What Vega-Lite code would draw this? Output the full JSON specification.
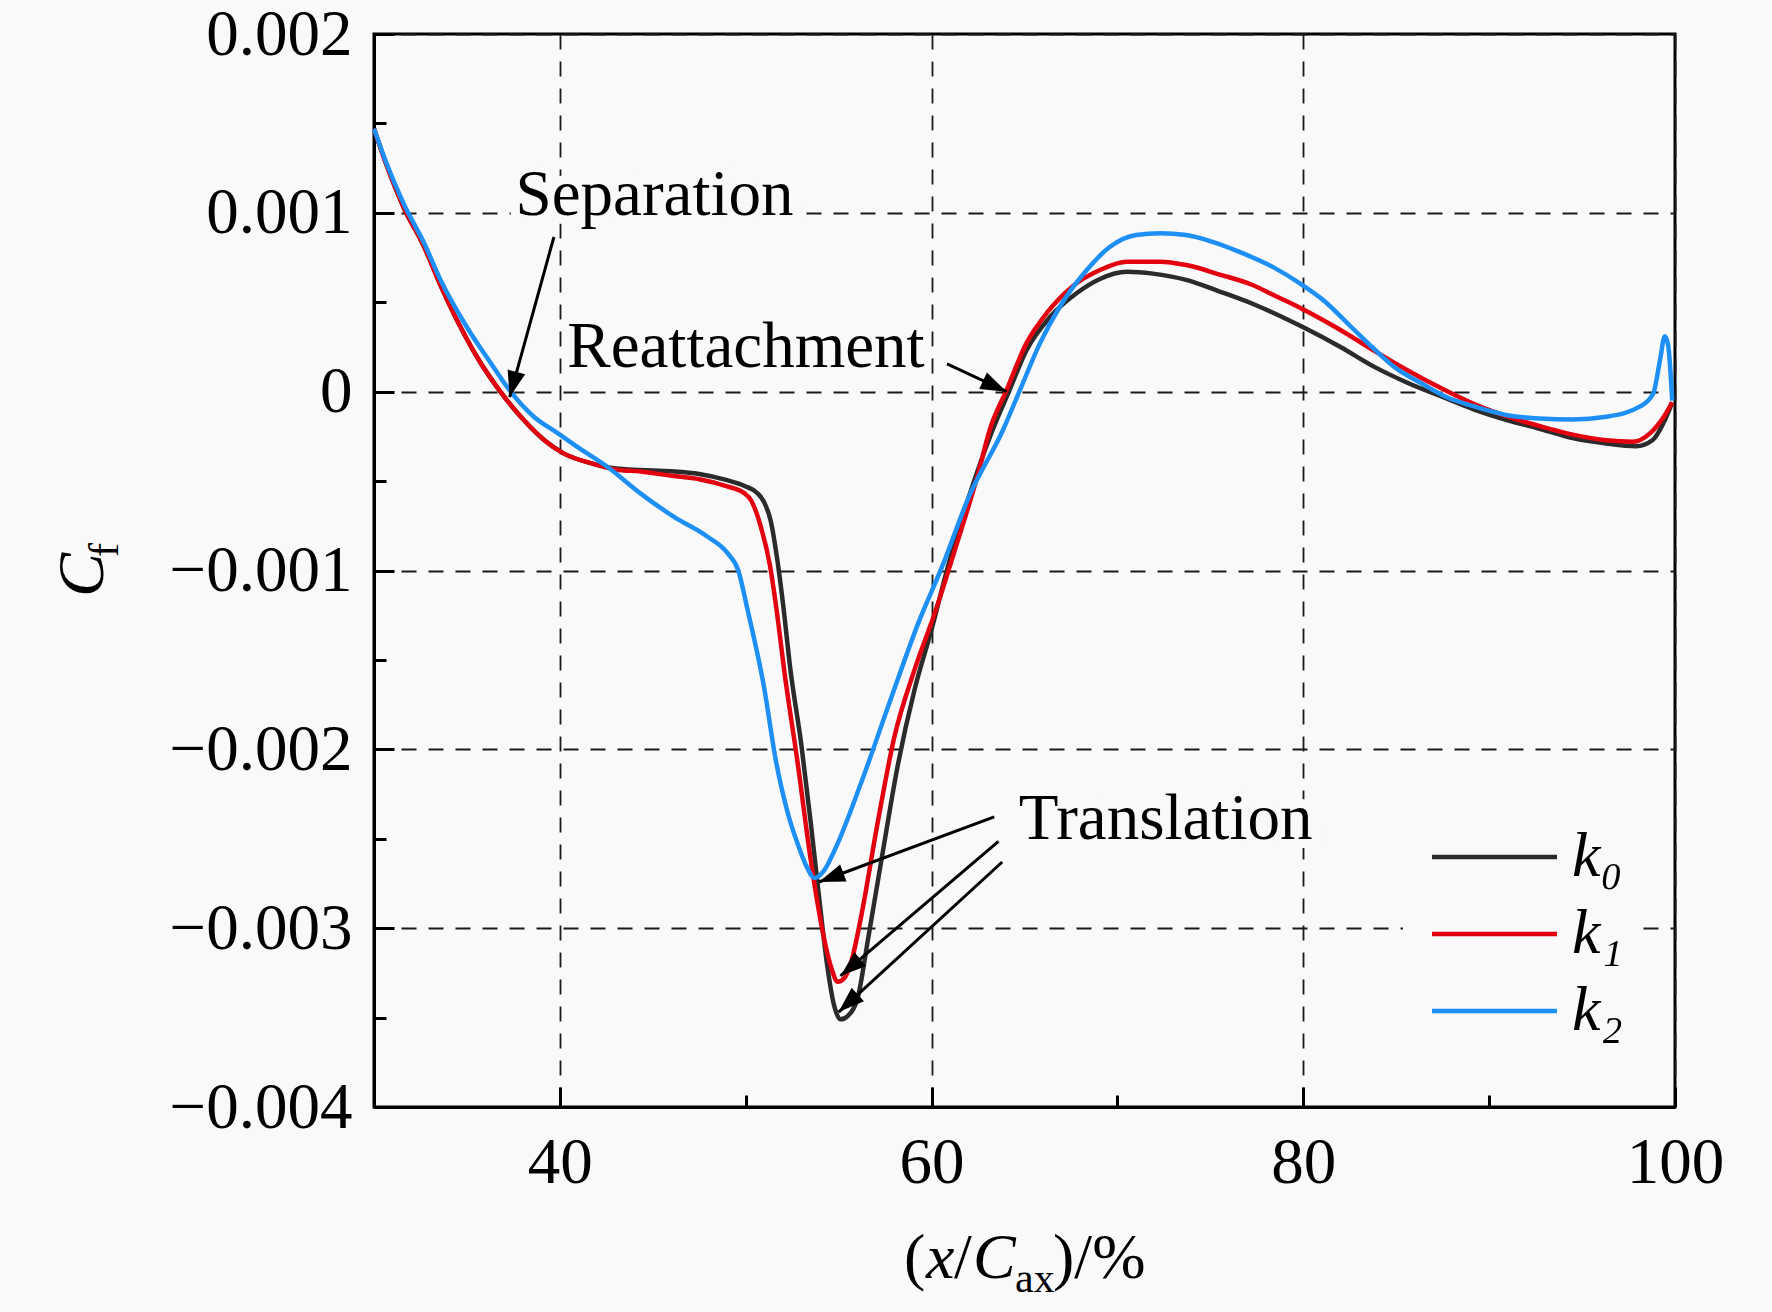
{
  "$schema": "https://vega.github.io/schema/vega-lite/v6.json",
  "width": 1301,
  "height": 1073,
  "autosize": {"type": "none"},
  "padding": {"left": 374, "top": 34, "right": 97, "bottom": 205},
  "background": "#f9f9f9",
  "config": {
    "font": "Liberation Serif",
    "view": {"stroke": "#000000", "strokeWidth": 3}
  },
  "layer": [
    {
      "data": {
        "values": [
          {"pos": 30, "cf": 0.00147, "series": "k0"},
          {"pos": 30.7, "cf": 0.00126, "series": "k0"},
          {"pos": 31.6, "cf": 0.00103, "series": "k0"},
          {"pos": 32.7, "cf": 0.00081, "series": "k0"},
          {"pos": 33.6, "cf": 0.00059, "series": "k0"},
          {"pos": 34.66, "cf": 0.00036, "series": "k0"},
          {"pos": 35.74, "cf": 0.00016, "series": "k0"},
          {"pos": 36.8, "cf": 0.0, "series": "k0"},
          {"pos": 38.07, "cf": -0.00016, "series": "k0"},
          {"pos": 39.15, "cf": -0.00027, "series": "k0"},
          {"pos": 40.2, "cf": -0.000345, "series": "k0"},
          {"pos": 41.66, "cf": -0.0004, "series": "k0"},
          {"pos": 43.0, "cf": -0.00043, "series": "k0"},
          {"pos": 44.35, "cf": -0.000438, "series": "k0"},
          {"pos": 46.0, "cf": -0.000445, "series": "k0"},
          {"pos": 47.5, "cf": -0.00046, "series": "k0"},
          {"pos": 49.0, "cf": -0.000495, "series": "k0"},
          {"pos": 50.0, "cf": -0.00053, "series": "k0"},
          {"pos": 50.6, "cf": -0.000565, "series": "k0"},
          {"pos": 51.0, "cf": -0.00062, "series": "k0"},
          {"pos": 51.34, "cf": -0.00072, "series": "k0"},
          {"pos": 51.7, "cf": -0.00094, "series": "k0"},
          {"pos": 52.0, "cf": -0.00118, "series": "k0"},
          {"pos": 52.4, "cf": -0.00155, "series": "k0"},
          {"pos": 53.0, "cf": -0.00198, "series": "k0"},
          {"pos": 53.5, "cf": -0.00241, "series": "k0"},
          {"pos": 53.95, "cf": -0.00283, "series": "k0"},
          {"pos": 54.4, "cf": -0.00322, "series": "k0"},
          {"pos": 54.75, "cf": -0.00343, "series": "k0"},
          {"pos": 55.1, "cf": -0.00351, "series": "k0"},
          {"pos": 55.5, "cf": -0.00349, "series": "k0"},
          {"pos": 56.0, "cf": -0.0034, "series": "k0"},
          {"pos": 56.6, "cf": -0.00305, "series": "k0"},
          {"pos": 57.3, "cf": -0.00262, "series": "k0"},
          {"pos": 58.2, "cf": -0.00208, "series": "k0"},
          {"pos": 59.1, "cf": -0.00166, "series": "k0"},
          {"pos": 60.0, "cf": -0.00133, "series": "k0"},
          {"pos": 60.9, "cf": -0.00097, "series": "k0"},
          {"pos": 62.0, "cf": -0.00059, "series": "k0"},
          {"pos": 63.3, "cf": -0.00021, "series": "k0"},
          {"pos": 64.2, "cf": 0.00001, "series": "k0"},
          {"pos": 65.1, "cf": 0.00023, "series": "k0"},
          {"pos": 66.4, "cf": 0.00042, "series": "k0"},
          {"pos": 67.8, "cf": 0.00055, "series": "k0"},
          {"pos": 69.06, "cf": 0.00063, "series": "k0"},
          {"pos": 70.5, "cf": 0.00067, "series": "k0"},
          {"pos": 71.9, "cf": 0.00066, "series": "k0"},
          {"pos": 73.7, "cf": 0.000625, "series": "k0"},
          {"pos": 75.5, "cf": 0.00056, "series": "k0"},
          {"pos": 77.3, "cf": 0.00049, "series": "k0"},
          {"pos": 78.4, "cf": 0.00044, "series": "k0"},
          {"pos": 80.0, "cf": 0.00036, "series": "k0"},
          {"pos": 82.0, "cf": 0.00025, "series": "k0"},
          {"pos": 83.8, "cf": 0.00014, "series": "k0"},
          {"pos": 85.6, "cf": 0.00005, "series": "k0"},
          {"pos": 87.5, "cf": -0.00003, "series": "k0"},
          {"pos": 89.2, "cf": -0.0001, "series": "k0"},
          {"pos": 91.0, "cf": -0.00016, "series": "k0"},
          {"pos": 92.8, "cf": -0.00021, "series": "k0"},
          {"pos": 94.5, "cf": -0.00026, "series": "k0"},
          {"pos": 96.3, "cf": -0.00029, "series": "k0"},
          {"pos": 97.9, "cf": -0.000305, "series": "k0"},
          {"pos": 98.8, "cf": -0.00027, "series": "k0"},
          {"pos": 99.45, "cf": -0.00016, "series": "k0"},
          {"pos": 99.85, "cf": -0.00006, "series": "k0"},

          {"pos": 30, "cf": 0.00147, "series": "k1"},
          {"pos": 30.7, "cf": 0.00126, "series": "k1"},
          {"pos": 31.6, "cf": 0.00103, "series": "k1"},
          {"pos": 32.7, "cf": 0.00081, "series": "k1"},
          {"pos": 33.6, "cf": 0.00059, "series": "k1"},
          {"pos": 34.66, "cf": 0.00036, "series": "k1"},
          {"pos": 35.74, "cf": 0.00016, "series": "k1"},
          {"pos": 36.8, "cf": 0.0, "series": "k1"},
          {"pos": 38.07, "cf": -0.00016, "series": "k1"},
          {"pos": 39.15, "cf": -0.00027, "series": "k1"},
          {"pos": 40.2, "cf": -0.000345, "series": "k1"},
          {"pos": 41.66, "cf": -0.0004, "series": "k1"},
          {"pos": 43.0, "cf": -0.000435, "series": "k1"},
          {"pos": 44.35, "cf": -0.000447, "series": "k1"},
          {"pos": 46.0, "cf": -0.00047, "series": "k1"},
          {"pos": 47.5, "cf": -0.00049, "series": "k1"},
          {"pos": 49.0, "cf": -0.00053, "series": "k1"},
          {"pos": 49.9, "cf": -0.000566, "series": "k1"},
          {"pos": 50.3, "cf": -0.00061, "series": "k1"},
          {"pos": 50.8, "cf": -0.00075, "series": "k1"},
          {"pos": 51.3, "cf": -0.00097, "series": "k1"},
          {"pos": 51.7, "cf": -0.00125, "series": "k1"},
          {"pos": 52.06, "cf": -0.00155, "series": "k1"},
          {"pos": 52.8, "cf": -0.00208, "series": "k1"},
          {"pos": 53.5, "cf": -0.00262, "series": "k1"},
          {"pos": 54.2, "cf": -0.00305, "series": "k1"},
          {"pos": 54.6, "cf": -0.00322, "series": "k1"},
          {"pos": 54.95, "cf": -0.0033, "series": "k1"},
          {"pos": 55.3, "cf": -0.00328, "series": "k1"},
          {"pos": 55.7, "cf": -0.00318, "series": "k1"},
          {"pos": 56.2, "cf": -0.00294, "series": "k1"},
          {"pos": 57.1, "cf": -0.00241, "series": "k1"},
          {"pos": 58.0, "cf": -0.00193, "series": "k1"},
          {"pos": 59.1, "cf": -0.00155, "series": "k1"},
          {"pos": 60.2, "cf": -0.00123, "series": "k1"},
          {"pos": 61.3, "cf": -0.00087, "series": "k1"},
          {"pos": 62.5, "cf": -0.00046, "series": "k1"},
          {"pos": 63.14, "cf": -0.00021, "series": "k1"},
          {"pos": 64.04, "cf": 0.00001, "series": "k1"},
          {"pos": 65.1, "cf": 0.00027, "series": "k1"},
          {"pos": 66.2, "cf": 0.00044, "series": "k1"},
          {"pos": 67.6, "cf": 0.00059, "series": "k1"},
          {"pos": 69.06, "cf": 0.00068, "series": "k1"},
          {"pos": 70.5, "cf": 0.000727, "series": "k1"},
          {"pos": 72.3, "cf": 0.000727, "series": "k1"},
          {"pos": 73.7, "cf": 0.000708, "series": "k1"},
          {"pos": 75.5, "cf": 0.000655, "series": "k1"},
          {"pos": 77.3, "cf": 0.000595, "series": "k1"},
          {"pos": 78.4, "cf": 0.00054, "series": "k1"},
          {"pos": 80.0, "cf": 0.00046, "series": "k1"},
          {"pos": 82.0, "cf": 0.000345, "series": "k1"},
          {"pos": 83.8, "cf": 0.00023, "series": "k1"},
          {"pos": 85.6, "cf": 0.00012, "series": "k1"},
          {"pos": 87.4, "cf": 0.00002, "series": "k1"},
          {"pos": 89.2, "cf": -0.00007, "series": "k1"},
          {"pos": 91.0, "cf": -0.00014, "series": "k1"},
          {"pos": 92.8, "cf": -0.000195, "series": "k1"},
          {"pos": 94.5, "cf": -0.00024, "series": "k1"},
          {"pos": 96.3, "cf": -0.000272, "series": "k1"},
          {"pos": 97.75, "cf": -0.00028, "series": "k1"},
          {"pos": 98.65, "cf": -0.000233, "series": "k1"},
          {"pos": 99.4, "cf": -0.00014, "series": "k1"},
          {"pos": 99.85, "cf": -0.00006, "series": "k1"},

          {"pos": 30, "cf": 0.00147, "series": "k2"},
          {"pos": 30.7, "cf": 0.00127, "series": "k2"},
          {"pos": 31.6, "cf": 0.00105, "series": "k2"},
          {"pos": 32.7, "cf": 0.00083, "series": "k2"},
          {"pos": 33.6, "cf": 0.00062, "series": "k2"},
          {"pos": 35.0, "cf": 0.00036, "series": "k2"},
          {"pos": 36.28, "cf": 0.00016, "series": "k2"},
          {"pos": 37.35, "cf": 0.0, "series": "k2"},
          {"pos": 38.6, "cf": -0.00014, "series": "k2"},
          {"pos": 39.86, "cf": -0.00023, "series": "k2"},
          {"pos": 41.1, "cf": -0.00032, "series": "k2"},
          {"pos": 42.55, "cf": -0.00042, "series": "k2"},
          {"pos": 44.35, "cf": -0.00057, "series": "k2"},
          {"pos": 46.14, "cf": -0.0007, "series": "k2"},
          {"pos": 47.93, "cf": -0.00081, "series": "k2"},
          {"pos": 49.0, "cf": -0.0009, "series": "k2"},
          {"pos": 49.6, "cf": -0.001, "series": "k2"},
          {"pos": 50.1, "cf": -0.00122, "series": "k2"},
          {"pos": 51.0, "cf": -0.00166, "series": "k2"},
          {"pos": 51.6, "cf": -0.00205, "series": "k2"},
          {"pos": 52.3, "cf": -0.00237, "series": "k2"},
          {"pos": 52.8, "cf": -0.00253, "series": "k2"},
          {"pos": 53.3, "cf": -0.00266, "series": "k2"},
          {"pos": 53.7, "cf": -0.00272, "series": "k2"},
          {"pos": 54.2, "cf": -0.00268, "series": "k2"},
          {"pos": 54.8, "cf": -0.00256, "series": "k2"},
          {"pos": 56.2, "cf": -0.00219, "series": "k2"},
          {"pos": 57.8, "cf": -0.00172, "series": "k2"},
          {"pos": 59.3, "cf": -0.00129, "series": "k2"},
          {"pos": 60.6, "cf": -0.00097, "series": "k2"},
          {"pos": 62.0, "cf": -0.00059, "series": "k2"},
          {"pos": 63.86, "cf": -0.00021, "series": "k2"},
          {"pos": 64.76, "cf": 0.00001, "series": "k2"},
          {"pos": 65.83, "cf": 0.00027, "series": "k2"},
          {"pos": 66.9, "cf": 0.000475, "series": "k2"},
          {"pos": 68.35, "cf": 0.00068, "series": "k2"},
          {"pos": 69.6, "cf": 0.00081, "series": "k2"},
          {"pos": 71.0, "cf": 0.000876, "series": "k2"},
          {"pos": 72.3, "cf": 0.000886, "series": "k2"},
          {"pos": 73.7, "cf": 0.000876, "series": "k2"},
          {"pos": 75.2, "cf": 0.000835, "series": "k2"},
          {"pos": 76.6, "cf": 0.00078, "series": "k2"},
          {"pos": 78.4, "cf": 0.000695, "series": "k2"},
          {"pos": 79.9, "cf": 0.0006, "series": "k2"},
          {"pos": 81.1, "cf": 0.00051, "series": "k2"},
          {"pos": 82.5, "cf": 0.00037, "series": "k2"},
          {"pos": 83.8, "cf": 0.00024, "series": "k2"},
          {"pos": 85.0, "cf": 0.00013, "series": "k2"},
          {"pos": 86.3, "cf": 0.00005, "series": "k2"},
          {"pos": 87.7, "cf": -0.00003, "series": "k2"},
          {"pos": 89.1, "cf": -0.00008, "series": "k2"},
          {"pos": 90.9, "cf": -0.00013, "series": "k2"},
          {"pos": 92.7, "cf": -0.00015, "series": "k2"},
          {"pos": 94.5, "cf": -0.000155, "series": "k2"},
          {"pos": 96.3, "cf": -0.00014, "series": "k2"},
          {"pos": 98.1, "cf": -0.000084, "series": "k2"},
          {"pos": 98.83, "cf": -0.00001, "series": "k2"},
          {"pos": 99.2, "cf": 0.00018, "series": "k2"},
          {"pos": 99.45, "cf": 0.00031, "series": "k2"},
          {"pos": 99.63, "cf": 0.00026, "series": "k2"},
          {"pos": 99.85, "cf": -0.00005, "series": "k2"}
        ]
      },
      "mark": {"type": "line", "strokeWidth": 4.5, "interpolate": "monotone"},
      "encoding": {
        "x": {
          "field": "pos", "type": "quantitative",
          "scale": {"domain": [30, 100], "nice": false},
          "axis": {
            "title": null,
            "values": [40, 50, 60, 70, 80, 90, 100],
            "labelExpr": "datum.value % 20 == 0 ? datum.label : ''",
            "labelFont": "Liberation Serif", "labelFontSize": 65, "labelColor": "#000000",
            "labelPadding": 44, "labelFlush": false, "labelOverlap": false, "labelLimit": 0,
            "domainColor": "#000000", "domainWidth": 3,
            "tickColor": "#000000", "tickWidth": 3,
            "tickSize": {"condition": {"test": "datum.value % 20 == 0", "value": -20}, "value": -12},
            "grid": true, "gridColor": "#1a1a1a", "gridWidth": 1.8, "gridDash": [15, 12],
            "gridOpacity": {"condition": {"test": "datum.value % 20 == 0", "value": 1}, "value": 0}
          }
        },
        "y": {
          "field": "cf", "type": "quantitative",
          "scale": {"domain": [-0.004, 0.002], "nice": false},
          "axis": {
            "title": null,
            "values": [-0.004, -0.0035, -0.003, -0.0025, -0.002, -0.0015, -0.001, -0.0005, 0, 0.0005, 0.001, 0.0015, 0.002],
            "format": ".3~f",
            "labelExpr": "abs(datum.value * 1000 - round(datum.value * 1000)) < 0.000001 ? datum.label : ''",
            "labelFont": "Liberation Serif", "labelFontSize": 65, "labelColor": "#000000",
            "labelPadding": 42, "labelFlush": false, "labelOverlap": false, "labelLimit": 0,
            "domainColor": "#000000", "domainWidth": 3,
            "tickColor": "#000000", "tickWidth": 3,
            "tickSize": {"condition": {"test": "abs(datum.value * 1000 - round(datum.value * 1000)) < 0.000001", "value": -20}, "value": -12},
            "grid": true, "gridColor": "#1a1a1a", "gridWidth": 1.8, "gridDash": [15, 12],
            "gridOpacity": {"condition": {"test": "abs(datum.value * 1000 - round(datum.value * 1000)) < 0.000001", "value": 1}, "value": 0}
          }
        },
        "color": {
          "field": "series", "type": "nominal",
          "scale": {"domain": ["k0", "k1", "k2"], "range": ["#2b2b2b", "#e3000f", "#1e8ff5"]},
          "legend": {
            "title": null,
            "orient": "none",
            "legendX": 1029,
            "legendY": 775.5,
            "fillColor": "#f9f9f9",
            "padding": 14,
            "symbolType": "M-2,0H2",
            "symbolSize": 3906,
            "symbolStrokeWidth": 4.5,
            "symbolOffset": 44,
            "labelExpr": "'k' + (datum.label == 'k0' ? '₀' : datum.label == 'k1' ? '₁' : '₂') + '\u2009\u2009'",
            "labelFont": "Liberation Serif", "labelFontSize": 64, "labelFontStyle": "italic", "labelColor": "#000000",
            "labelOffset": 44,
            "rowPadding": 11
          }
        }
      }
    },
    {
      "data": {"values": [{}]},
      "mark": {"type": "text", "text": "Separation", "font": "Liberation Serif", "fontSize": 65, "align": "left", "baseline": "alphabetic", "color": "#f9f9f9", "stroke": "#f9f9f9", "strokeWidth": 18},
      "encoding": {
        "x": {"datum": 37.62, "type": "quantitative"},
        "y": {"datum": 0.00099, "type": "quantitative"}
      }
    },
    {
      "data": {"values": [{}]},
      "mark": {"type": "text", "text": "Separation", "font": "Liberation Serif", "fontSize": 65, "align": "left", "baseline": "alphabetic", "color": "#000000"},
      "encoding": {
        "x": {"datum": 37.62, "type": "quantitative"},
        "y": {"datum": 0.00099, "type": "quantitative"}
      }
    },
    {
      "data": {"values": [{}]},
      "mark": {"type": "text", "text": "Reattachment", "font": "Liberation Serif", "fontSize": 65, "align": "left", "baseline": "alphabetic", "color": "#000000"},
      "encoding": {
        "x": {"datum": 40.4, "type": "quantitative"},
        "y": {"datum": 0.00014, "type": "quantitative"}
      }
    },
    {
      "data": {"values": [{}]},
      "mark": {"type": "text", "text": "Translation", "font": "Liberation Serif", "fontSize": 65, "align": "left", "baseline": "alphabetic", "color": "#f9f9f9", "stroke": "#f9f9f9", "strokeWidth": 18},
      "encoding": {
        "x": {"datum": 64.69, "type": "quantitative"},
        "y": {"datum": -0.0025, "type": "quantitative"}
      }
    },
    {
      "data": {"values": [{}]},
      "mark": {"type": "text", "text": "Translation", "font": "Liberation Serif", "fontSize": 65, "align": "left", "baseline": "alphabetic", "color": "#000000"},
      "encoding": {
        "x": {"datum": 64.69, "type": "quantitative"},
        "y": {"datum": -0.0025, "type": "quantitative"}
      }
    },
    {
      "data": {"values": [{}]},
      "mark": {"type": "rule", "color": "#000000", "strokeWidth": 3},
      "encoding": {
        "x": {"datum": 39.68, "type": "quantitative"},
        "y": {"datum": 0.000865, "type": "quantitative"},
        "x2": {"datum": 37.3},
        "y2": {"datum": -0.00003}
      }
    },
    {
      "data": {"values": [{}]},
      "mark": {"type": "point", "shape": "M0,0L-0.7,2L0.7,2Z", "filled": true, "color": "#000000", "opacity": 1, "size": 676, "angle": 195},
      "encoding": {
        "x": {"datum": 37.3, "type": "quantitative"},
        "y": {"datum": -0.00003, "type": "quantitative"}
      }
    },
    {
      "data": {"values": [{}]},
      "mark": {"type": "rule", "color": "#000000", "strokeWidth": 3},
      "encoding": {
        "x": {"datum": 60.83, "type": "quantitative"},
        "y": {"datum": 0.000155, "type": "quantitative"},
        "x2": {"datum": 64.04},
        "y2": {"datum": 0.0}
      }
    },
    {
      "data": {"values": [{}]},
      "mark": {"type": "point", "shape": "M0,0L-0.7,2L0.7,2Z", "filled": true, "color": "#000000", "opacity": 1, "size": 676, "angle": 115},
      "encoding": {
        "x": {"datum": 64.04, "type": "quantitative"},
        "y": {"datum": 0.0, "type": "quantitative"}
      }
    },
    {
      "data": {"values": [{}]},
      "mark": {"type": "rule", "color": "#000000", "strokeWidth": 3},
      "encoding": {
        "x": {"datum": 63.37, "type": "quantitative"},
        "y": {"datum": -0.002378, "type": "quantitative"},
        "x2": {"datum": 53.94},
        "y2": {"datum": -0.002742}
      }
    },
    {
      "data": {"values": [{}]},
      "mark": {"type": "point", "shape": "M0,0L-0.7,2L0.7,2Z", "filled": true, "color": "#000000", "opacity": 1, "size": 676, "angle": 249.6},
      "encoding": {
        "x": {"datum": 53.94, "type": "quantitative"},
        "y": {"datum": -0.002742, "type": "quantitative"}
      }
    },
    {
      "data": {"values": [{}]},
      "mark": {"type": "rule", "color": "#000000", "strokeWidth": 3},
      "encoding": {
        "x": {"datum": 63.6, "type": "quantitative"},
        "y": {"datum": -0.002515, "type": "quantitative"},
        "x2": {"datum": 55.1},
        "y2": {"datum": -0.003267}
      }
    },
    {
      "data": {"values": [{}]},
      "mark": {"type": "point", "shape": "M0,0L-0.7,2L0.7,2Z", "filled": true, "color": "#000000", "opacity": 1, "size": 676, "angle": 229.6},
      "encoding": {
        "x": {"datum": 55.1, "type": "quantitative"},
        "y": {"datum": -0.003267, "type": "quantitative"}
      }
    },
    {
      "data": {"values": [{}]},
      "mark": {"type": "rule", "color": "#000000", "strokeWidth": 3},
      "encoding": {
        "x": {"datum": 63.8, "type": "quantitative"},
        "y": {"datum": -0.00263, "type": "quantitative"},
        "x2": {"datum": 55.0},
        "y2": {"datum": -0.003469}
      }
    },
    {
      "data": {"values": [{}]},
      "mark": {"type": "point", "shape": "M0,0L-0.7,2L0.7,2Z", "filled": true, "color": "#000000", "opacity": 1, "size": 676, "angle": 227.5},
      "encoding": {
        "x": {"datum": 55.0, "type": "quantitative"},
        "y": {"datum": -0.003469, "type": "quantitative"}
      }
    },
    {
      "data": {"values": [{}]},
      "mark": {"type": "text", "text": "C", "font": "Liberation Serif", "fontSize": 66, "fontStyle": "italic", "align": "left", "baseline": "alphabetic", "angle": 270, "color": "#000000"},
      "encoding": {
        "x": {"datum": 15.42, "type": "quantitative"},
        "y": {"datum": -0.001148, "type": "quantitative"}
      }
    },
    {
      "data": {"values": [{}]},
      "mark": {"type": "text", "text": "f", "font": "Liberation Serif", "fontSize": 42, "align": "left", "baseline": "alphabetic", "angle": 270, "color": "#000000"},
      "encoding": {
        "x": {"datum": 16.23, "type": "quantitative"},
        "y": {"datum": -0.000925, "type": "quantitative"}
      }
    },
    {
      "data": {"values": [{}]},
      "mark": {"type": "text", "text": "(", "font": "Liberation Serif", "fontSize": 64, "align": "left", "baseline": "alphabetic", "dx": -121, "color": "#000000"},
      "encoding": {
        "x": {"datum": 65.03, "type": "quantitative"},
        "y": {"datum": -0.004956, "type": "quantitative"}
      }
    },
    {
      "data": {"values": [{}]},
      "mark": {"type": "text", "text": "x", "font": "Liberation Serif", "fontSize": 64, "fontStyle": "italic", "align": "left", "baseline": "alphabetic", "dx": -99, "color": "#000000"},
      "encoding": {
        "x": {"datum": 65.03, "type": "quantitative"},
        "y": {"datum": -0.004956, "type": "quantitative"}
      }
    },
    {
      "data": {"values": [{}]},
      "mark": {"type": "text", "text": "/", "font": "Liberation Serif", "fontSize": 64, "align": "left", "baseline": "alphabetic", "dx": -71, "color": "#000000"},
      "encoding": {
        "x": {"datum": 65.03, "type": "quantitative"},
        "y": {"datum": -0.004956, "type": "quantitative"}
      }
    },
    {
      "data": {"values": [{}]},
      "mark": {"type": "text", "text": "C", "font": "Liberation Serif", "fontSize": 64, "fontStyle": "italic", "align": "left", "baseline": "alphabetic", "dx": -52, "color": "#000000"},
      "encoding": {
        "x": {"datum": 65.03, "type": "quantitative"},
        "y": {"datum": -0.004956, "type": "quantitative"}
      }
    },
    {
      "data": {"values": [{}]},
      "mark": {"type": "text", "text": "ax", "font": "Liberation Serif", "fontSize": 42, "align": "left", "baseline": "alphabetic", "dx": -10, "dy": 14, "color": "#000000"},
      "encoding": {
        "x": {"datum": 65.03, "type": "quantitative"},
        "y": {"datum": -0.004956, "type": "quantitative"}
      }
    },
    {
      "data": {"values": [{}]},
      "mark": {"type": "text", "text": ")/%", "font": "Liberation Serif", "fontSize": 64, "align": "left", "baseline": "alphabetic", "dx": 28, "color": "#000000"},
      "encoding": {
        "x": {"datum": 65.03, "type": "quantitative"},
        "y": {"datum": -0.004956, "type": "quantitative"}
      }
    }
  ]
}
